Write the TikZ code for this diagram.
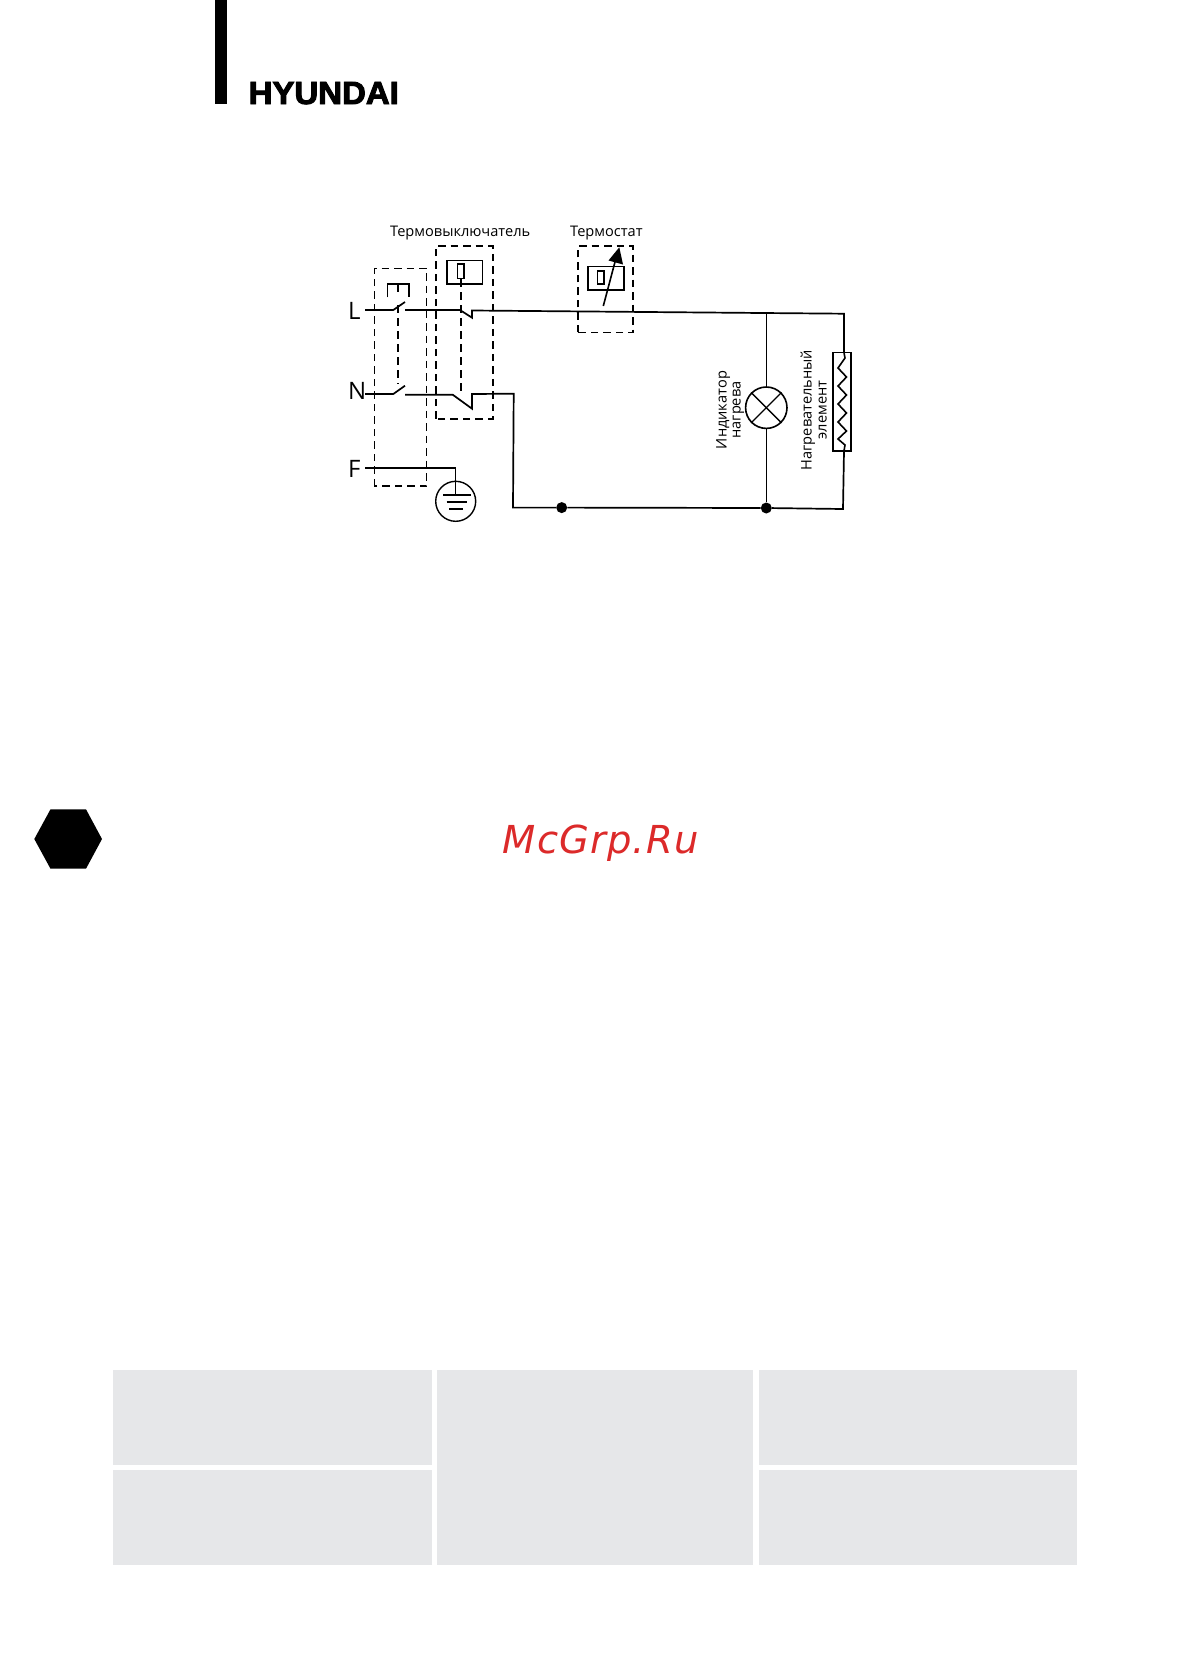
\documentclass[tikz,border=0pt]{standalone}
\usepackage{fontspec}
\setmainfont{Open Sans}
\newfontfamily\logofont[FakeBold=3]{Liberation Sans}
\newfontfamily\wmfont[LetterSpace=3]{DejaVu Sans}
\definecolor{panelgrey}{HTML}{E6E7E9}
\definecolor{wmred}{HTML}{DC2A2A}
\tikzset{
  wire/.style={line width=1.7pt,line join=miter},
  thinwire/.style={line width=1.1pt},
  dashbox/.style={line width=1.4pt,dash pattern=on 7.5pt off 5pt},
  dashlink/.style={line width=1.7pt,dash pattern=on 8pt off 5pt},
  compbox/.style={line width=1.6pt},
  lab/.style={inner sep=0pt,font=\fontsize{14.6}{15}\selectfont,text height=10pt,text depth=0pt},
  bigl/.style={inner sep=0pt,anchor=base west,font=\fontsize{24}{24}\selectfont},
  dotn/.style={circle,fill=black,inner sep=0pt,minimum size=11pt},
  panel/.style={fill=panelgrey,draw=none}
}
\begin{document}
\begin{tikzpicture}[x=1pt,y=-1pt]
\useasboundingbox (0,0) rectangle (1191,1678);
\fill[white] (0,0) rectangle (1191,1678);
% header
\fill[black] (215,0) rectangle (226.7,104);
\node[inner sep=0pt,anchor=base west,xscale=1.03] (logo) at (248.5,104) {\fontsize{32}{32}\logofont\bfseries HYUNDAI};
% panels
\fill[panel] (113,1370) rectangle (432.3,1465);
\fill[panel] (113,1470) rectangle (432.3,1564.5);
\fill[panel] (436.8,1370) rectangle (753.3,1564.5);
\fill[panel] (758.8,1370) rectangle (1077,1465);
\fill[panel] (758.8,1470) rectangle (1077,1564.5);
% hexagon
\fill[black] (34.3,839) -- (50.5,809.3) -- (86,809.3) -- (102,839) -- (86,868.7) -- (50.5,868.7) -- cycle;
% watermark
\node[inner sep=0pt,anchor=base west,text=wmred] (wm) at (502.5,853) {\fontsize{38.5}{38.5}\wmfont\itshape McGrp.Ru};
% labels
\node[lab,anchor=base west] (t1) at (390,236) {Термовыключатель};
\node[lab,anchor=base west] (t2) at (570,236) {Термостат};
\node[bigl] (lL) at (348,319) {L};
\node[bigl] (lN) at (348,399) {N};
\node[bigl] (lF) at (348,477) {F};
\node[lab,rotate=90,anchor=base] (t3) at (726.7,410) {Индикатор};
\node[lab,rotate=90,anchor=base] (t4) at (740.7,410) {нагрева};
\node[lab,rotate=90,anchor=base] (t5) at (811.7,410) {Нагревательный};
\node[lab,rotate=90,anchor=base] (t6) at (826.7,410) {элемент};
% dashed enclosures
\draw[dashbox,line width=1.2pt] (374.3,486) -- (374.3,268.3) -- (426.7,268.3) -- (426.7,486) -- cycle;
\draw[dashbox,line width=1.7pt] (435.7,418.7) -- (435.7,246) -- (492.7,246) -- (492.7,418.7) -- cycle;
\draw[dashbox] (578,332.3) -- (578,246) -- (633,246) -- (633,332.3) -- cycle;
% coordinates
\coordinate (La) at (365,310);
\coordinate (Lb) at (393.3,310);
\coordinate (Lc) at (405,302);
\coordinate (Ld) at (405,310);
\coordinate (Le) at (460,310);
\coordinate (Lf) at (472,317.7);
\coordinate (Lg) at (472,310.5);
\coordinate (TR) at (844,313.7);
\coordinate (RT) at (844,352.7);
\coordinate (RB) at (844,451);
\coordinate (BR) at (843,509);
\coordinate (Na) at (365,394);
\coordinate (Nb) at (393.3,394);
\coordinate (Nc) at (405,385.7);
\coordinate (Nd) at (405,394.7);
\coordinate (Ne) at (452.7,394.7);
\coordinate (Nf) at (472,408.7);
\coordinate (Ng) at (472,394);
\coordinate (Nh) at (513.7,393.7);
\coordinate (Ni) at (513,507.6);
\coordinate (Fa) at (365,468.3);
\coordinate (Fb) at (455.5,468.3);
\node[dotn] (d1) at (561.7,507.6) {};
\node[dotn] (d2) at (766.3,508) {};
% wires
\draw[wire] (La) -- (Lb) -- (Lc);
\draw[wire] (Ld) -- (Le) -- (Lf) -- (Lg) -- (TR) -- (RT);
\draw[wire] (RB) -- (BR) -- (d2) -- (d1) -- (Ni) -- (Nh) -- (Ng) -- (Nf) -- (Ne) -- (Nd);
\draw[wire] (Na) -- (Nb) -- (Nc);
% switch link
\draw[compbox] (387.3,297.3) -- (387.3,284) -- (408.7,284) -- (408.7,297.3);
\draw[dashlink] (397.7,284) -- (397.7,296);
\draw[dashlink] (397.7,305) -- (397.7,384);
% thermal switch
\node[draw,compbox,inner sep=0pt,minimum width=35.6pt,minimum height=23.3pt] (ts) at (464.5,272.3) {};
\node[draw,compbox,inner sep=0pt,minimum width=6.7pt,minimum height=14.7pt] (tsi) at (460.7,271.3) {};
\draw[dashlink] (tsi.south) -- (460.7,392);
% thermostat
\node[draw,compbox,inner sep=0pt,minimum width=36pt,minimum height=23.3pt] (th) at (606,278.3) {};
\node[draw,compbox,inner sep=0pt,minimum width=6.4pt,minimum height=12.7pt] (thi) at (600.5,277.6) {};
\coordinate (ara) at (603.3,306);
\coordinate (arb) at (615.5,260);
\coordinate (art) at (619.3,247.3);
\draw[line width=1.6pt] (ara) -- (arb);
\fill[black] (art) -- (623,264.5) -- (608.5,260.5) -- cycle;
% lamp
\node[draw,circle,line width=1.6pt,inner sep=0pt,minimum size=41.4pt] (lamp) at (766.3,407.7) {};
\draw[thinwire] (766.3,312.8) -- (lamp.north);
\draw[thinwire] (lamp.south) -- (d2);
\draw[line width=1.3pt] (lamp.45) -- (lamp.225);
\draw[line width=1.3pt] (lamp.135) -- (lamp.315);
% resistor
\node[draw,compbox,inner sep=0pt,minimum width=18pt,minimum height=98.5pt] (res) at (842.2,401.8) {};
\draw[line width=1.6pt,line join=miter] (RT) -- (845,358) -- (838,368) -- (846.5,377) -- (838,386) -- (846.5,395) -- (838,404) -- (846.5,413) -- (838,422) -- (846.5,431) -- (838,439) -- (845,445) -- (RB);
% earth
\node[draw,circle,line width=1.4pt,inner sep=0pt,minimum size=40pt] (gnd) at (455.7,501.3) {};
\draw[wire] (Fa) -- (Fb) -- (455.5,494.7);
\draw[wire] (443.3,494.7) -- (470.7,494.7);
\draw[wire] (446.7,502) -- (467,502);
\draw[wire] (449.3,509) -- (462.7,509);
\end{tikzpicture}
\end{document}
